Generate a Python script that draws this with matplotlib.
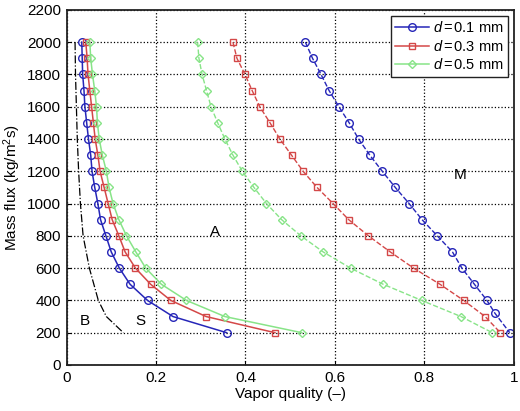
import matplotlib
matplotlib.use('Agg')
import matplotlib.pyplot as plt

plt.rcParams['font.family'] = ['Liberation Sans', 'DejaVu Sans']
plt.rcParams['mathtext.fontset'] = 'custom'
plt.rcParams['mathtext.rm'] = 'Liberation Sans'
plt.rcParams['mathtext.it'] = 'Liberation Sans:italic'

# mass flux levels (kg/m2s)
G = [2000, 1900, 1800, 1700, 1600, 1500, 1400, 1300, 1200, 1100,
     1000, 900, 800, 700, 600, 500, 400, 300, 200]

# S/A transition (solid)
xs_01 = [0.034, 0.035, 0.036, 0.039, 0.041, 0.045, 0.049, 0.054, 0.057, 0.063,
         0.070, 0.076, 0.088, 0.100, 0.118, 0.142, 0.181, 0.238, 0.358]
xs_03 = [0.043, 0.046, 0.048, 0.052, 0.056, 0.060, 0.064, 0.070, 0.075, 0.084,
         0.093, 0.102, 0.117, 0.131, 0.154, 0.188, 0.233, 0.312, 0.466]
xs_05 = [0.052, 0.054, 0.058, 0.063, 0.067, 0.069, 0.073, 0.080, 0.089, 0.095,
         0.104, 0.117, 0.134, 0.155, 0.177, 0.212, 0.268, 0.354, 0.526]

# A/M transition (dashed)
G_m01 = [2000, 1900, 1800, 1700, 1600, 1500, 1400, 1300, 1200, 1100,
         1000, 900, 800, 700, 600, 500, 400, 320, 200]
xm_01 = [0.534, 0.550, 0.569, 0.587, 0.609, 0.632, 0.653, 0.678, 0.706, 0.735,
         0.766, 0.795, 0.829, 0.863, 0.884, 0.912, 0.940, 0.958, 0.991]
xm_03 = [0.372, 0.381, 0.399, 0.415, 0.432, 0.455, 0.477, 0.503, 0.529, 0.560,
         0.596, 0.631, 0.675, 0.724, 0.776, 0.835, 0.888, 0.936, 0.970]
xm_05 = [0.293, 0.296, 0.303, 0.313, 0.323, 0.338, 0.354, 0.372, 0.393, 0.419,
         0.447, 0.481, 0.524, 0.574, 0.635, 0.708, 0.794, 0.882, 0.952]

# B/S transition (dash-dot)
G_b = [2000, 1800, 1600, 1400, 1200, 1000, 800, 600, 400, 300, 200]
xb = [0.019, 0.020, 0.022, 0.024, 0.027, 0.031, 0.037, 0.051, 0.071, 0.089, 0.127]

c_blue = '#2626b8'
c_red = '#d44848'
c_green = '#88e488'

fig = plt.figure(figsize=(5.2, 4.11), dpi=100)
ax = fig.add_axes([0.128, 0.112, 0.86, 0.864])

ax.plot(xb, G_b, color='black', linestyle='-.', linewidth=0.9)

ax.plot(xs_01, G, color=c_blue, marker='o', markersize=5.5, mfc='none', linewidth=1.1,
        label=r'$d\,$=$\,$0.1 mm')
ax.plot(xs_03, G, color=c_red, marker='s', markersize=4.5, mfc='none', linewidth=1.1,
        label=r'$d\,$=$\,$0.3 mm')
ax.plot(xs_05, G, color=c_green, marker='D', markersize=4, mfc='none', linewidth=1.1,
        label=r'$d\,$=$\,$0.5 mm')

ax.plot(xm_01, G_m01, color=c_blue, marker='o', markersize=5.5, mfc='none', linewidth=1.0,
        linestyle='--')
ax.plot(xm_03, G, color=c_red, marker='s', markersize=4.5, mfc='none', linewidth=1.0,
        linestyle='--')
ax.plot(xm_05, G, color=c_green, marker='D', markersize=4, mfc='none', linewidth=1.0,
        linestyle='--')

ax.text(0.041, 274, 'B', fontsize=11, ha='center', va='center')
ax.text(0.165, 274, 'S', fontsize=11, ha='center', va='center')
ax.text(0.332, 825, 'A', fontsize=11, ha='center', va='center')
ax.text(0.879, 1176, 'M', fontsize=11, ha='center', va='center')

ax.set_xlim(0, 1)
ax.set_ylim(0, 2200)
ax.set_xticks([0, 0.2, 0.4, 0.6, 0.8, 1])
ax.set_xticklabels(['0', '0.2', '0.4', '0.6', '0.8', '1'])
ax.set_yticks(range(0, 2201, 200))
ax.tick_params(direction='in', labelsize=11, length=3, pad=4)
ax.grid(True, color='black', linestyle=':', linewidth=0.9)
for s in ax.spines.values():
    s.set_linewidth(1.3)
    s.set_color('#222222')

ax.set_xlabel('Vapor quality (\u2013)', fontsize=11, labelpad=2)
ax.set_ylabel('Mass flux (kg/m$^2$s)', fontsize=11, labelpad=3)

leg = ax.legend(loc='upper right', fontsize=10.5, fancybox=False, framealpha=1,
                edgecolor='#222222', borderaxespad=0.4, handlelength=2.3,
                handletextpad=0.3, borderpad=0.3, labelspacing=0.25)
leg.get_frame().set_linewidth(1.0)

fig.savefig('out.png', dpi=100)
